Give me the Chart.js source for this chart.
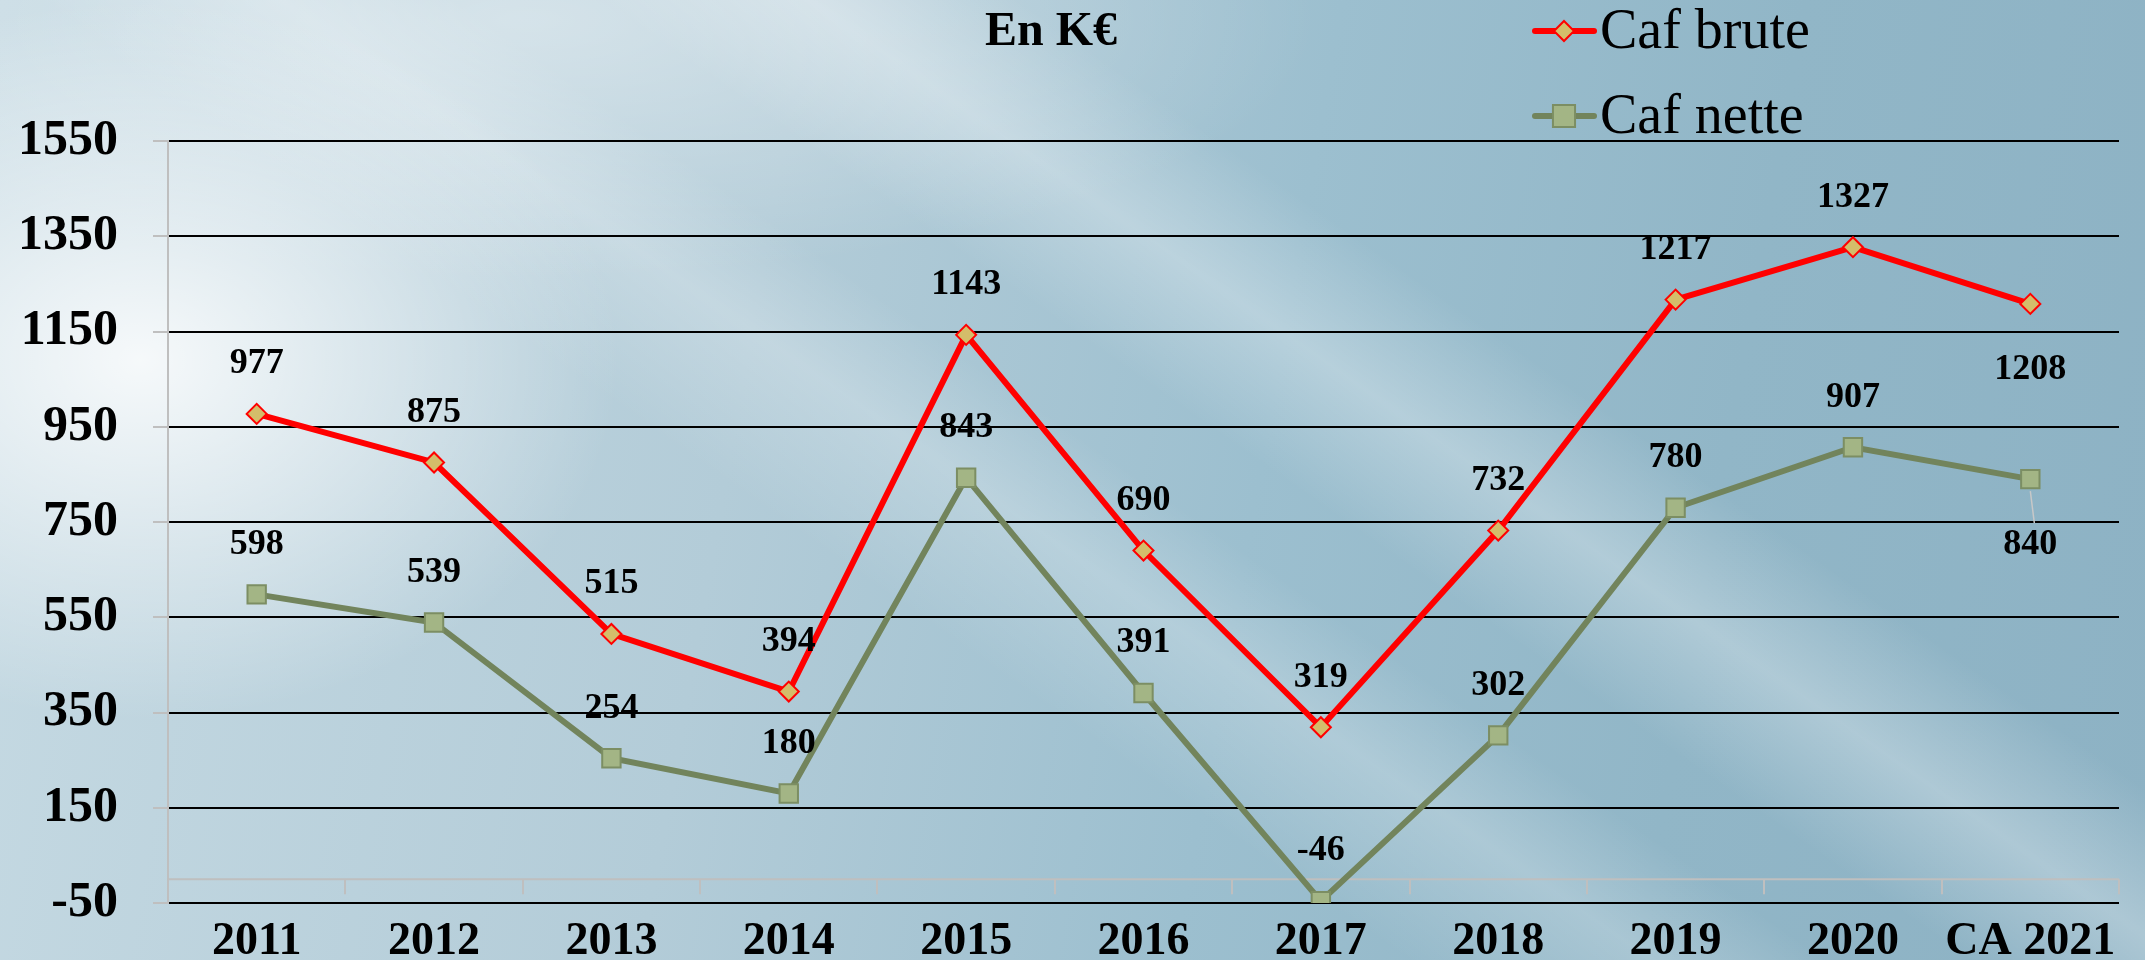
<!DOCTYPE html>
<html>
<head>
<meta charset="utf-8">
<script src="https://cdn.jsdelivr.net/npm/chart.js@4.4.0/dist/chart.umd.min.js"></script>
<style>
html, body { margin: 0; padding: 0; }
#wrap {
    position: relative; width: 2145px; height: 960px; overflow: hidden;
    background:
        radial-gradient(ellipse 480px 360px at 140px 360px, rgba(255,255,255,0.85), rgba(255,255,255,0) 100%),
        radial-gradient(ellipse 800px 260px at 520px 20px, rgba(255,255,255,0.4), rgba(255,255,255,0) 100%),
        linear-gradient(35deg, rgba(255,255,255,0) 40%, rgba(255,255,255,0.22) 47%, rgba(255,255,255,0) 52%,
                               rgba(255,255,255,0) 56%, rgba(255,255,255,0.28) 62%, rgba(255,255,255,0) 68%),
        linear-gradient(100deg, #c6dae3 0%, #b3ccd8 35%, #9cbfcf 58%, #91b6c7 78%, #8db2c4 100%);
}
canvas { position: absolute; left: 0; top: 0; }
</style>
</head>
<body>
<div id="wrap"><canvas id="chart" width="2145" height="960"></canvas></div>
<script>
var categories = ['2011', '2012', '2013', '2014', '2015', '2016', '2017', '2018', '2019', '2020', 'CA 2021'];
var cafBrute = [977, 875, 515, 394, 1143, 690, 319, 732, 1217, 1327, 1208];
var cafNette = [598, 539, 254, 180, 843, 391, -46, 302, 780, 907, 840];
var yMin = -50, yMax = 1550, yStep = 200;
var labelsBelow = [10];   // points whose value label sits under the marker

var serif = "'Liberation Serif', 'DejaVu Serif', serif";

var extras = {
    id: 'extras',
    beforeDatasetsDraw: function(chart){
        var c = chart.ctx, a = chart.chartArea;
        var y0 = chart.scales.y.getPixelForValue(0);
        var w = (a.right - a.left) / categories.length;
        c.save();
        c.strokeStyle = '#BFBFBF';
        c.lineWidth = 2;
        c.beginPath();
        c.moveTo(a.left, y0); c.lineTo(a.right, y0);
        for (var i = 0; i <= categories.length; i++){
            var x = Math.round(a.left + i * w);
            c.moveTo(x, y0); c.lineTo(x, y0 + 15);
        }
        c.stroke();
        c.restore();
    },
    afterDatasetsDraw: function(chart){
        var c = chart.ctx;
        c.save();
        c.fillStyle = '#000';
        c.textAlign = 'center';
        c.textBaseline = 'middle';
        c.font = 'bold 36px ' + serif;
        chart.data.datasets.forEach(function(ds, di){
            chart.getDatasetMeta(di).data.forEach(function(pt, i){
                var below = labelsBelow.indexOf(i) >= 0;
                if (below && di === 1){
                    // thin leader line from marker to label
                    c.strokeStyle = '#C8C8C8';
                    c.lineWidth = 1.5;
                    c.beginPath(); c.moveTo(pt.x, pt.y + 12); c.lineTo(pt.x + 4, pt.y + 44); c.stroke();
                }
                c.fillText(ds.data[i], pt.x, pt.y + (below ? 66 : -50));
            });
        });

        // title
        c.font = 'bold 48px ' + serif;
        c.fillText('En K€', 1051, 33);

        // legend
        c.textAlign = 'left';
        c.font = '56px ' + serif;
        chart.data.datasets.forEach(function(ds, di){
            var y = 31 + di * 85;
            c.strokeStyle = ds.borderColor;
            c.lineWidth = 6;
            c.lineCap = 'round';
            c.beginPath(); c.moveTo(1535, y); c.lineTo(1594, y); c.stroke();
            c.fillStyle = ds.pointBackgroundColor;
            c.strokeStyle = ds.pointBorderColor;
            c.lineWidth = ds.pointBorderWidth;
            c.beginPath();
            if (ds.pointStyle === 'rectRot'){
                var r = ds.pointRadius;
                c.moveTo(1564, y - r); c.lineTo(1564 + r, y); c.lineTo(1564, y + r); c.lineTo(1564 - r, y); c.closePath();
            } else {
                var h = ds.pointRadius * 0.85;
                c.rect(1564 - h, y - h, 2 * h, 2 * h);
            }
            c.fill(); c.stroke();
            c.fillStyle = '#000';
            c.fillText(ds.label, 1600, y + 2);
        });
        c.restore();
    }
};

new Chart(document.getElementById('chart').getContext('2d'), {
    type: 'line',
    data: {
        labels: categories,
        datasets: [
            {
                label: 'Caf brute', data: cafBrute,
                borderColor: '#FF0000', borderWidth: 6, tension: 0,
                pointStyle: 'rectRot', pointRadius: 10,
                pointBackgroundColor: '#D4BD6A', pointBorderColor: '#FF0000', pointBorderWidth: 2
            },
            {
                label: 'Caf nette', data: cafNette,
                borderColor: '#72845C', borderWidth: 6, tension: 0,
                pointStyle: 'rect', pointRadius: 13,
                pointBackgroundColor: '#A3B585', pointBorderColor: '#7C8E63', pointBorderWidth: 2
            }
        ]
    },
    options: {
        responsive: false,
        animation: false,
        layout: { padding: { top: 141, right: 26, left: 0, bottom: 0 } },
        plugins: { legend: { display: false }, tooltip: { enabled: false } },
        scales: {
            x: {
                offset: true,
                grid: { display: false, drawTicks: false },
                border: { display: false },
                ticks: { color: '#000', font: { family: serif, size: 46, weight: 'bold' }, padding: 12, maxRotation: 0, autoSkip: false },
                afterFit: function(s){ s.height = 57; }
            },
            y: {
                min: yMin, max: yMax,
                ticks: {
                    stepSize: yStep, color: '#000', padding: 35,
                    font: { family: serif, size: 50, weight: 'bold' },
                    callback: function(v){ return String(v); }
                },
                grid: { color: '#000', lineWidth: 2, tickColor: '#BFBFBF', tickLength: 15, tickWidth: 2 },
                border: { color: '#BFBFBF', width: 2 },
                afterFit: function(s){ s.width = 168; s.paddingTop = 0; s.paddingBottom = 0; }
            }
        }
    },
    plugins: [extras]
});
</script>
</body>
</html>
